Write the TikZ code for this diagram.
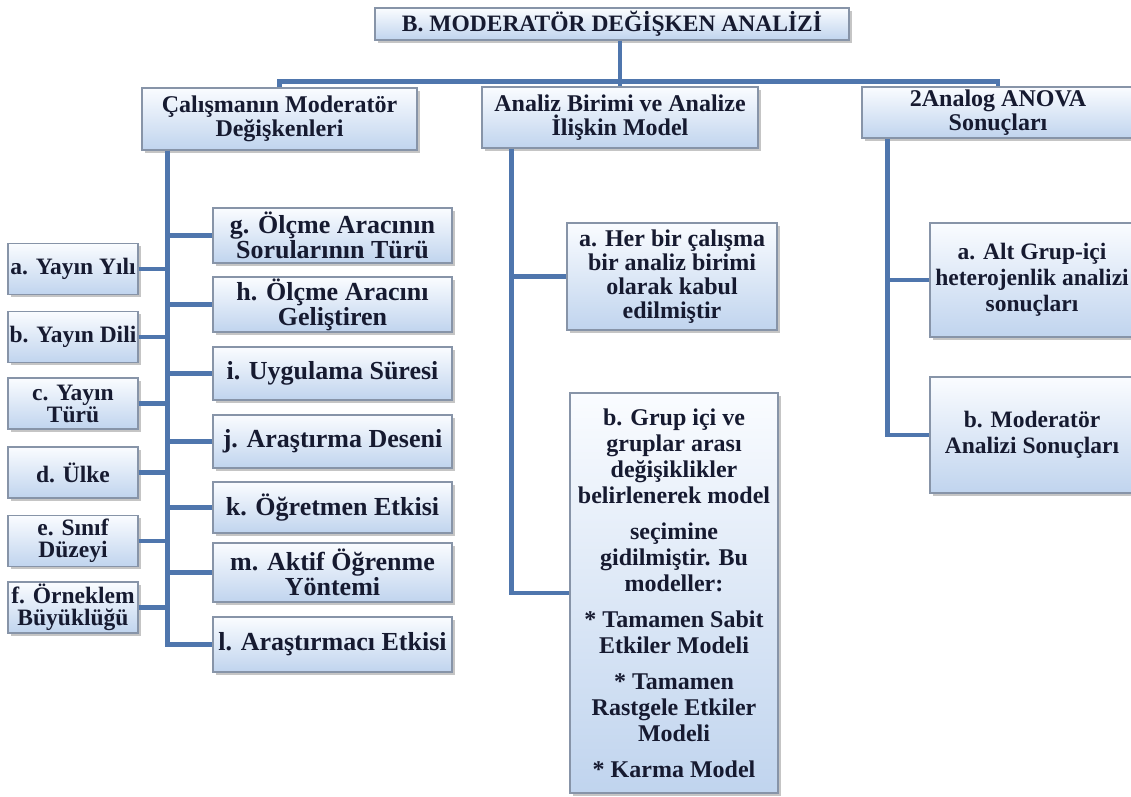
\documentclass[tikz,border=0pt]{standalone}
\usepackage{fontspec}
\setmainfont{Liberation Serif}
\usetikzlibrary{calc,positioning,shadows}
\definecolor{linkblue}{RGB}{79,118,173}
\definecolor{boxtop}{RGB}{250,252,255}
\definecolor{boxbot}{RGB}{192,212,238}
\definecolor{boxedge}{RGB}{135,148,168}
\definecolor{txtdark}{RGB}{22,26,48}
\tikzset{
  link/.style={draw=linkblue, line width=4.5pt},
  box/.style={draw=boxedge, line width=1.2pt, top color=boxtop, bottom color=boxbot,
    align=center, inner sep=1pt, text=txtdark,
    drop shadow={shadow xshift=2.5pt, shadow yshift=-2.5pt, fill=black!50, opacity=0.45}},
  headbox/.style={box, font=\bfseries\fontsize{24}{24}\selectfont},
  leftbox/.style={box, minimum width=130pt, minimum height=51pt, font=\bfseries\fontsize{23.5}{22}\selectfont},
  listbox/.style={box, minimum width=239pt, font=\bfseries\fontsize{26}{25}\selectfont},
  subbox/.style={box, font=\bfseries\fontsize{24}{26}\selectfont}
}
\begin{document}
\begin{tikzpicture}[x=1pt, y=-1pt]
  \fill[white] (0,0) rectangle (1131,796);
  \useasboundingbox (0,0) rectangle (1131,796);
  % top row
  \node[headbox, minimum width=474pt, minimum height=32pt, font=\bfseries\fontsize{23.5}{22}\selectfont] (title) at (612,24) {B. MODERATÖR DEĞİŞKEN ANALİZİ};
  \node[headbox, minimum width=275pt, minimum height=62pt] (An) at (279.5,119) {Çalışmanın Moderatör\\Değişkenleri};
  \node[headbox, minimum width=276pt, minimum height=61pt] (Bn) at (620,117.5) {Analiz Birimi ve Analize\\İlişkin Model};
  \node[headbox, minimum width=272pt, minimum height=51pt] (Cn) at (998,112.5) {2Analog ANOVA\\Sonuçları};
  % left column
  \node[leftbox] (la) at (73,269) {a. Yayın Yılı};
  \node[leftbox] (lb) at (73,337) {b. Yayın Dili};
  \node[leftbox] (lc) at (73,403.5) {c. Yayın\\Türü};
  \node[leftbox] (ld) at (73,472.5) {d. Ülke};
  \node[leftbox] (le) at (73,541) {e. Sınıf\\Düzeyi};
  \node[leftbox] (lf) at (73,607.5) {f. Örneklem\\Büyüklüğü};
  \node[listbox, minimum height=55pt] (lg) at (332.5,235.5) {g. Ölçme Aracının\\Sorularının Türü};
  \node[listbox, minimum height=55pt] (lh) at (332.5,304.5) {h. Ölçme Aracını\\Geliştiren};
  \node[listbox, minimum height=53pt] (li) at (332.5,373.5) {i. Uygulama Süresi};
  \node[listbox, minimum height=53pt] (lj) at (332.5,441.5) {j. Araştırma Deseni};
  \node[listbox, minimum height=51pt] (lk) at (332.5,507.5) {k. Öğretmen Etkisi};
  \node[listbox, minimum height=59pt] (lm) at (332.5,572.5) {m. Aktif Öğrenme\\Yöntemi};
  \node[listbox, minimum height=55pt] (ll) at (332.5,644.5) {l. Araştırmacı Etkisi};
  % middle column
  \node[subbox, minimum width=210pt, minimum height=107pt, font=\bfseries\fontsize{24}{24}\selectfont] (ma) at (672,276.5) {a. Her bir çalışma\\bir analiz birimi\\olarak kabul\\edilmiştir};
  \node[subbox, minimum width=208pt, minimum height=400pt] (mb) at (674,593) {b. Grup içi ve\\gruplar arası\\değişiklikler\\belirlenerek model\\[10pt]seçimine\\gidilmiştir. Bu\\modeller:\\[10pt]* Tamamen Sabit\\Etkiler Modeli\\[10pt]* Tamamen\\Rastgele Etkiler\\Modeli\\[10pt]* Karma Model};
  % right column
  \node[subbox, minimum width=204pt, minimum height=114pt, font=\bfseries\fontsize{23.5}{26}\selectfont] (ra) at (1032,280) {a. Alt Grup-içi\\heterojenlik analizi\\sonuçları};
  \node[subbox, minimum width=204pt, minimum height=116pt, font=\bfseries\fontsize{23.5}{26}\selectfont] (rb) at (1032,435) {b. Moderatör\\Analizi Sonuçları};
  % connectors
  \draw[link] (title.south -| Bn.north) -- (Bn.north);
  \draw[link] (An.north) -- ++(0,-6) -| (Cn.north);
  \coordinate (lsp) at ($(An.south west)+(26,0)$);
  \draw[link] (lsp) |- (ll.west);
  \draw[link] (la.east) -- (la.east -| lsp);
  \draw[link] (lb.east) -- (lb.east -| lsp);
  \draw[link] (lc.east) -- (lc.east -| lsp);
  \draw[link] (ld.east) -- (ld.east -| lsp);
  \draw[link] (le.east) -- (le.east -| lsp);
  \draw[link] (lf.east) -- (lf.east -| lsp);
  \draw[link] (lg.west) -- (lg.west -| lsp);
  \draw[link] (lh.west) -- (lh.west -| lsp);
  \draw[link] (li.west) -- (li.west -| lsp);
  \draw[link] (lj.west) -- (lj.west -| lsp);
  \draw[link] (lk.west) -- (lk.west -| lsp);
  \draw[link] (lm.west) -- (lm.west -| lsp);
  \coordinate (msp) at ($(Bn.south west)+(30,0)$);
  \draw[link] (msp) |- (mb.west);
  \draw[link] (ma.west) -- (ma.west -| msp);
  \coordinate (rsp) at ($(Cn.south west)+(26,0)$);
  \draw[link] (rsp) |- (rb.west);
  \draw[link] (ra.west) -- (ra.west -| rsp);
\end{tikzpicture}
\end{document}
